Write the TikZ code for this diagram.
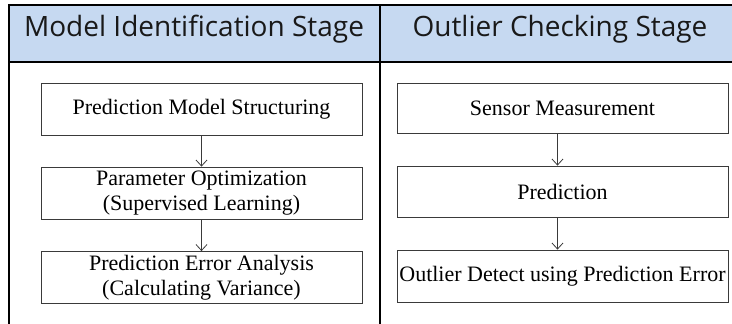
\documentclass[tikz,border=0pt]{standalone}
\usepackage{fontspec}
\setmainfont{Liberation Serif}
\newfontfamily\headfont{Open Sans}
\usetikzlibrary{arrows.meta}
\definecolor{headblue}{HTML}{C6D9F1}
\definecolor{linegray}{HTML}{3A3A3A}
\tikzset{
  x=1pt, y=-1pt,
  frame/.style={draw=black, line width=1.1pt},
  stepbox/.style={draw=linegray, line width=0.8pt, fill=white, inner sep=0pt, align=center,
    font=\fontsize{22}{24.5}\selectfont, text=black},
  headtext/.style={font=\headfont\fontsize{28}{32}\selectfont, text=black!90},
  flow/.style={draw=linegray, line width=0.8pt, -{Straight Barb[length=6pt,width=11pt]}}
}
\begin{document}
\begin{tikzpicture}
\useasboundingbox (0,0) rectangle (732,324);
% header band and frame
\fill[headblue] (9,5) rectangle (732,62);
\draw[frame] (732,5) -- (9,5) -- (9,324);
\draw[frame] (9,62) -- (732,62);
\draw[frame] (380,5) -- (380,324);
\node[headtext] (h1) at (194,29) {Model Identification Stage};
\node[headtext] (h2) at (560,29) {Outlier Checking Stage};
% model identification steps
\node[stepbox, minimum width=321pt, minimum height=52pt] (a1) at (201.5,109) {Prediction Model Structuring};
\node[stepbox, minimum width=321pt, minimum height=52pt] (a2) at (201.5,193) {Parameter Optimization\\(Supervised Learning)};
\node[stepbox, minimum width=321pt, minimum height=52pt] (a3) at (201.5,277.5) {Prediction Error Analysis\\(Calculating Variance)};
% outlier checking steps
\node[stepbox, minimum width=331pt, minimum height=50pt] (b1) at (562.5,108) {Sensor Measurement};
\node[stepbox, minimum width=331pt, minimum height=51pt] (b2) at (562.5,191.5) {Prediction};
\node[stepbox, minimum width=331pt, minimum height=52pt] (b3) at (562.5,276) {Outlier Detect using Prediction Error};
% connectors
\draw[flow] (a1.south) -- (a2.north);
\draw[flow] (a2.south) -- (a3.north);
\draw[flow] ([xshift=-5pt]b1.south) -- ([xshift=-5pt]b2.north);
\draw[flow] ([xshift=-5pt]b2.south) -- ([xshift=-5pt]b3.north);
\end{tikzpicture}
\end{document}
